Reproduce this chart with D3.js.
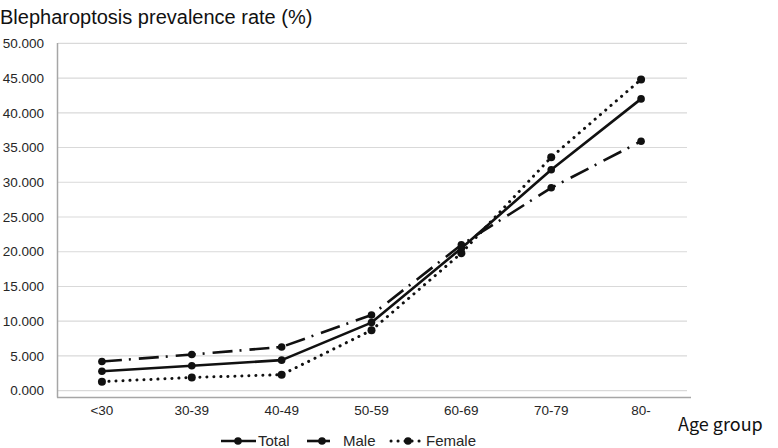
<!DOCTYPE html>
<html><head><meta charset="utf-8">
<script src="https://cdn.jsdelivr.net/npm/d3@7"></script>
<style>body{margin:0;background:#fff}svg{display:block}</style>
</head><body>
<svg id="c" width="778" height="448"></svg>
<script>
const categories = ["<30","30-39","40-49","50-59","60-69","70-79","80-"];
const total  = [2.8, 3.6, 4.4, 9.8, 20.5, 31.8, 42.0];
const male   = [4.2, 5.2, 6.3, 10.9, 21.0, 29.2, 35.9];
const female = [1.3, 1.9, 2.3, 8.7, 19.8, 33.6, 44.8];
const yTicks = [0,5,10,15,20,25,30,35,40,45,50];
const seriesNames = ["Total","Male","Female"];

const svg = d3.select("#c");
const x = d3.scalePoint().domain(categories).range([57, 686]).padding(0.5);
const y = d3.scaleLinear().domain([0, 50]).range([390.7, 43.3]);
const axisY = 397.5;
const txt = "#262626";

svg.append("g").selectAll("line").data(yTicks).join("line")
  .attr("x1", 58).attr("x2", 687)
  .attr("y1", d => y(d)).attr("y2", d => y(d))
  .attr("stroke", "#d9d9d9").attr("stroke-width", 1.2);

svg.append("line").attr("x1", 57.5).attr("x2", 57.5).attr("y1", 43).attr("y2", axisY)
  .attr("stroke", "#a6a6a6").attr("stroke-width", 1.5);
svg.append("line").attr("x1", 57).attr("x2", 691).attr("y1", axisY).attr("y2", axisY)
  .attr("stroke", "#a6a6a6").attr("stroke-width", 1.5);

svg.append("g").selectAll("text").data(yTicks).join("text")
  .attr("x", 44).attr("y", d => y(d)).attr("dy", "0.35em")
  .attr("text-anchor", "end")
  .attr("font-family", "Liberation Sans, Arial, sans-serif").attr("font-size", 13.5)
  .attr("fill", txt).text(d => d3.format(".3f")(d));

svg.append("g").selectAll("text").data(categories).join("text")
  .attr("x", d => x(d)).attr("y", 410).attr("dy", "0.35em")
  .attr("text-anchor", "middle")
  .attr("font-family", "Liberation Sans, Arial, sans-serif").attr("font-size", 13.5)
  .attr("fill", txt).text(d => d);

svg.append("text").attr("x", 0).attr("y", 24)
  .attr("font-family", "Liberation Sans, Arial, sans-serif").attr("font-size", 20)
  .attr("fill", "#111").text("Blepharoptosis prevalence rate (%)");

svg.append("text").attr("x", 678).attr("y", 431)
  .attr("font-family", "Noto Sans CJK KR, Noto Sans, sans-serif").attr("font-size", 18)
  .attr("fill", "#111").text("Age group");

const styles = {
  Total:  {dash: null, width: 2.6, cap: "butt"},
  Male:   {dash: "20,7,2,8", width: 2.6, cap: "butt"},
  Female: {dash: "0.1,6.9", width: 3, cap: "round"}
};
const data = {Total: total, Male: male, Female: female};
const line = d3.line().x((d,i) => x(categories[i])).y(d => y(d));
const ink = "#111";

seriesNames.forEach(name => {
  const st = styles[name];
  svg.append("path").datum(data[name]).attr("d", line)
    .attr("fill", "none").attr("stroke", ink).attr("stroke-width", st.width)
    .attr("stroke-linecap", st.cap).attr("stroke-linejoin", "round")
    .attr("stroke-dasharray", st.dash);
  svg.append("g").selectAll("circle").data(data[name]).join("circle")
    .attr("cx", (d,i) => x(categories[i])).attr("cy", d => y(d))
    .attr("r", name === "Female" ? 4 : 3.8).attr("fill", ink);
});

// legend
const legend = [
  {name: "Total",  x0: 221, x1: 256, mx: 238, tx: 258, dash: null},
  {name: "Male",   x0: 307, x1: 330, mx: 322, tx: 343, dash: null},
  {name: "Female", x0: 391, x1: 424, mx: 408, tx: 426, dash: "0.1,6.9"}
];
const legY = 441;
legend.forEach(L => {
  const st = styles[L.name];
  const g = svg.append("g");
  g.append("line").attr("x1", L.x0).attr("x2", L.x1).attr("y1", legY).attr("y2", legY)
    .attr("stroke", ink).attr("stroke-width", st.width)
    .attr("stroke-linecap", st.cap).attr("stroke-dasharray", L.dash);
  g.append("circle").attr("cx", L.mx).attr("cy", legY).attr("r", 3.8).attr("fill", ink);
  g.append("text").attr("x", L.tx).attr("y", legY).attr("dy", "0.36em")
    .attr("font-family", "Liberation Sans, Arial, sans-serif").attr("font-size", 15)
    .attr("fill", txt).text(L.name);
});
</script>
</body></html>
